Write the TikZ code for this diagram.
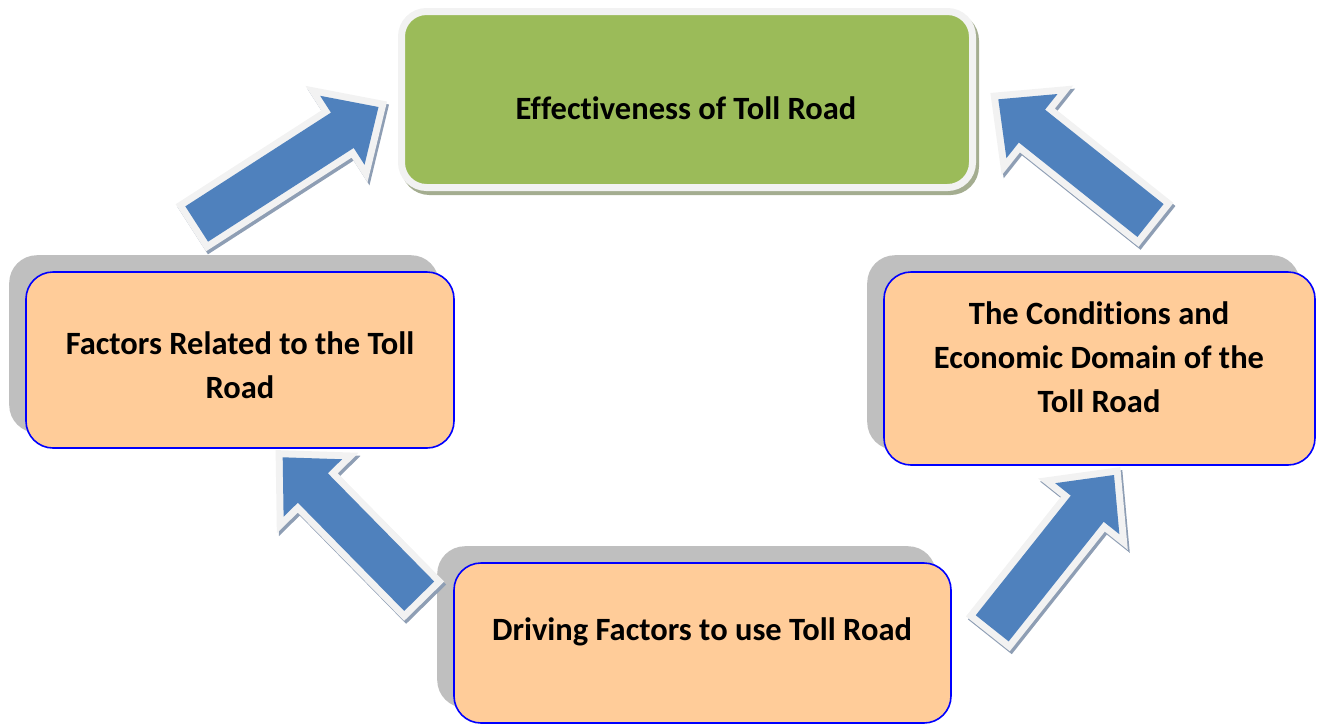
\documentclass[tikz,border=0pt]{standalone}
\usepackage{fontspec}
\setmainfont{Carlito}[Ligatures=NoCommon]
\usetikzlibrary{calc,shadows}

\definecolor{arrowblue}{HTML}{4F81BD}
\definecolor{rimgray}{HTML}{F2F2F2}
\definecolor{arrowshade}{HTML}{8E9EB4}
\definecolor{leafgreen}{HTML}{9BBB59}
\definecolor{greenshade}{HTML}{A4AD90}
\definecolor{peach}{HTML}{FFCC99}
\definecolor{boxshade}{HTML}{BFBFBF}

\tikzset{
  boxlabel/.style={font=\bfseries\fontsize{16.25pt}{22pt}\selectfont, align=center, text=black},
  goalbox/.style={rectangle, rounded corners=12.5pt, fill=leafgreen, draw=rimgray,
    line width=3.5pt,
    general shadow={fill=greenshade, draw=greenshade, shadow xshift=1.5pt, shadow yshift=-2pt}},
  factorbox/.style={rectangle, rounded corners=13.5pt, fill=peach, draw=blue,
    line width=0.8pt,
    general shadow={fill=boxshade, draw=boxshade, shadow xshift=-8pt, shadow yshift=8pt}},
}

% Block arrow from a tail coordinate to a tip coordinate:
% blue body, light rim, thin grey-blue shade to the lower right.
\newcommand\blockarrow[2]{%
  \coordinate (#1-neck) at ($(#2)!21.5pt!(#1)$);
  \def\arrowoutline{($(#1)!10.5pt!90:(#2)$) -- ($(#1-neck)!10.5pt!90:(#2)$)
    -- ($(#1-neck)!20.5pt!90:(#2)$) -- (#2) -- ($(#1-neck)!20.5pt!-90:(#2)$)
    -- ($(#1-neck)!10.5pt!-90:(#2)$) -- ($(#1)!10.5pt!-90:(#2)$) -- cycle}%
  \begin{scope}[transform canvas={shift={(1pt,-1.5pt)}}]
    \filldraw[arrowshade, line width=7pt, line join=miter] \arrowoutline;
  \end{scope}
  \filldraw[rimgray, line width=7pt, line join=miter] \arrowoutline;
  \fill[arrowblue] \arrowoutline;
}

\begin{document}
\begin{tikzpicture}[x=0.5pt,y=-0.5pt]
\useasboundingbox (0,0) rectangle (1319,725);

% boxes
\node[goalbox, minimum width=285.5pt, minimum height=88pt] (goal) at (687,99.5) {};
\node[boxlabel] (goaltext) at (686,108) {Effectiveness of Toll Road};

\node[factorbox, minimum width=214pt, minimum height=88pt] (related) at (240,360) {};
\node[boxlabel] (relatedtext) at (240,365) {Factors Related to the Toll\\Road};

\node[factorbox, minimum width=215.5pt, minimum height=96.5pt] (domain) at (1099.5,368.5) {};
\node[boxlabel] (domaintext) at (1099,357.5) {The Conditions and\\Economic Domain of the\\Toll Road};

\node[factorbox, minimum width=248.5pt, minimum height=80pt] (driving) at (702.5,643) {};
\node[boxlabel] (drivingtext) at (702,632) {Driving Factors to use Toll Road};

% arrow ends
\coordinate (a1t) at (196.7,224);   \coordinate (a1h) at (378.5,107);
\coordinate (a2t) at (1150.5,220.5); \coordinate (a2h) at (998.3,99.3);
\coordinate (a3t) at (419.2,596.2); \coordinate (a3h) at (282.7,457.3);
\coordinate (a4t) at (992.2,628.3); \coordinate (a4h) at (1114,475);

\blockarrow{a1t}{a1h}
\blockarrow{a2t}{a2h}
\blockarrow{a3t}{a3h}
\blockarrow{a4t}{a4h}
\end{tikzpicture}
\end{document}
